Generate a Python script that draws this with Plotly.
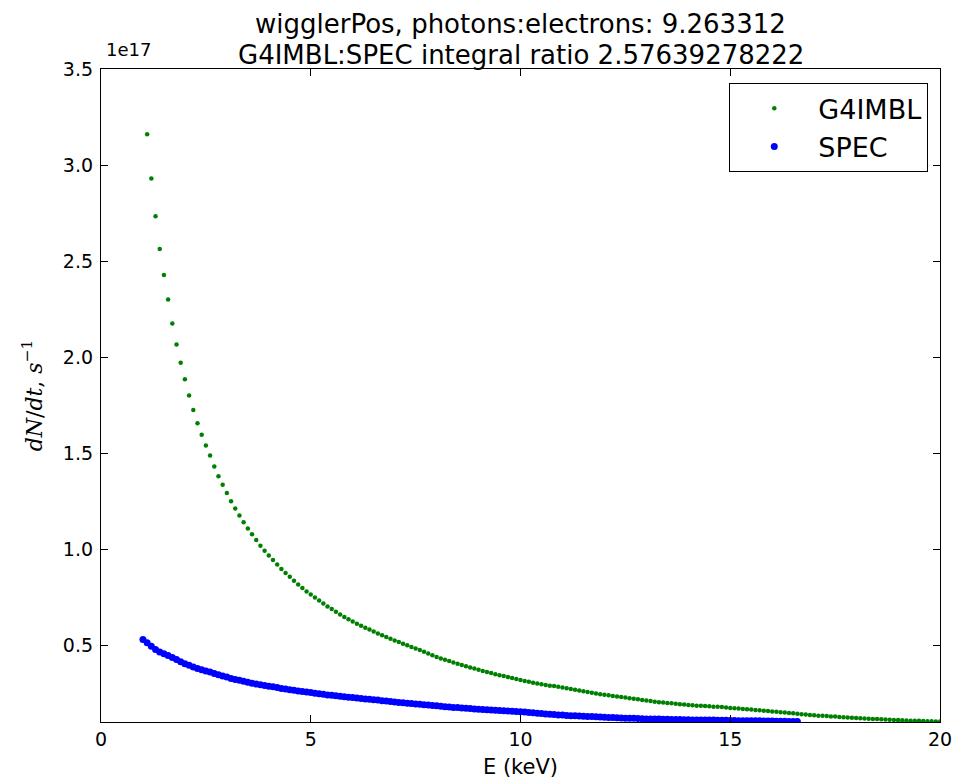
import plotly.graph_objects as go

# ---- data (dN/dt in units of 1e17 s^-1) ----
g4_e_start = 1.1
g4_e_step = 0.1
g4imbl_vals = [
    3.160, 2.930, 2.733, 2.563, 2.427, 2.300, 2.175, 2.065, 1.970, 1.885,
    1.800, 1.725, 1.655, 1.595, 1.540, 1.487, 1.430, 1.380, 1.335, 1.292,
    1.250, 1.212, 1.175, 1.140, 1.108, 1.077, 1.047, 1.018, 0.992, 0.967,
    0.943, 0.920, 0.897, 0.876, 0.856, 0.836, 0.816, 0.798, 0.780, 0.764,
    0.748, 0.733, 0.717, 0.702, 0.688, 0.674, 0.660, 0.647, 0.635, 0.623,
    0.612, 0.601, 0.591, 0.581, 0.571, 0.561, 0.552, 0.543, 0.534, 0.525,
    0.516, 0.508, 0.499, 0.491, 0.483, 0.475, 0.466, 0.457, 0.448, 0.439,
    0.431, 0.424, 0.417, 0.410, 0.403, 0.397, 0.390, 0.384, 0.378, 0.372,
    0.366, 0.360, 0.355, 0.349, 0.344, 0.339, 0.334, 0.329, 0.324, 0.319,
    0.314, 0.310, 0.305, 0.301, 0.297, 0.293, 0.289, 0.287, 0.283, 0.279,
    0.276, 0.272, 0.268, 0.264, 0.260, 0.256, 0.252, 0.248, 0.245, 0.242,
    0.239, 0.236, 0.233, 0.230, 0.227, 0.224, 0.221, 0.218, 0.215, 0.212,
    0.209, 0.206, 0.203, 0.201, 0.199, 0.197, 0.195, 0.193, 0.191, 0.189,
    0.187, 0.185, 0.184, 0.183, 0.182, 0.180, 0.179, 0.178, 0.176, 0.173,
    0.172, 0.170, 0.168, 0.167, 0.165, 0.163, 0.161, 0.159, 0.157, 0.155,
    0.153, 0.151, 0.149, 0.147, 0.145, 0.143, 0.141, 0.139, 0.137, 0.135,
    0.133, 0.132, 0.131, 0.129, 0.128, 0.126, 0.125, 0.123, 0.122, 0.121,
    0.119, 0.118, 0.117, 0.116, 0.115, 0.114, 0.113, 0.112, 0.111, 0.110,
    0.109, 0.108, 0.107, 0.106, 0.106, 0.105, 0.104, 0.104, 0.103, 0.102,
]

spec_e_start = 1.0
spec_e_step = 0.1
spec_vals = [
    0.530, 0.512, 0.494, 0.478, 0.464, 0.455, 0.446, 0.436, 0.425, 0.414,
    0.403, 0.395, 0.387, 0.379, 0.372, 0.366, 0.360, 0.353, 0.346, 0.340,
    0.334, 0.327, 0.321, 0.317, 0.312, 0.307, 0.302, 0.298, 0.294, 0.290,
    0.286, 0.283, 0.279, 0.275, 0.272, 0.268, 0.265, 0.262, 0.259, 0.256,
    0.253, 0.250, 0.247, 0.244, 0.241, 0.239, 0.237, 0.234, 0.232, 0.229,
    0.227, 0.225, 0.223, 0.220, 0.218, 0.216, 0.214, 0.211, 0.209, 0.207,
    0.204, 0.202, 0.200, 0.198, 0.196, 0.194, 0.192, 0.190, 0.188, 0.186,
    0.184, 0.182, 0.180, 0.178, 0.176, 0.175, 0.173, 0.171, 0.170, 0.168,
    0.166, 0.165, 0.164, 0.162, 0.161, 0.160, 0.159, 0.157, 0.156, 0.155,
    0.154, 0.152, 0.150, 0.148, 0.146, 0.144, 0.142, 0.140, 0.139, 0.137,
    0.136, 0.134, 0.133, 0.132, 0.131, 0.130, 0.129, 0.128, 0.127, 0.126,
    0.125, 0.124, 0.123, 0.122, 0.121, 0.120, 0.119, 0.119, 0.118, 0.117,
    0.116, 0.116, 0.115, 0.115, 0.114, 0.114, 0.113, 0.113, 0.113, 0.112,
    0.112, 0.111, 0.111, 0.111, 0.110, 0.110, 0.110, 0.109, 0.109, 0.109,
    0.108, 0.108, 0.107, 0.107, 0.107, 0.106, 0.106, 0.106, 0.105, 0.105,
    0.105, 0.104, 0.104, 0.104, 0.103, 0.103, 0.103,
]

g4imbl_e = [round(g4_e_start + g4_e_step * i, 2) for i in range(len(g4imbl_vals))]
spec_e = [round(spec_e_start + spec_e_step * i, 2) for i in range(len(spec_vals))]

x_ticks = [0, 5, 10, 15, 20]
y_ticks = [0.5, 1.0, 1.5, 2.0, 2.5, 3.0, 3.5]

title_lines = ["wigglerPos, photons:electrons: 9.263312",
               "G4IMBL:SPEC integral ratio 2.57639278222"]

FONT = "DejaVu Sans"
W, H = 961, 784
OFF = 8  # page body margin offset in the browser
# desired plot area on screen: left 101, right 940, top 69, bottom 722
ML, MR, MT, MB = 101 - OFF, W - 940 + OFF, 69 - OFF, H - 722 + OFF
PH = H - MT - MB

fig = go.Figure()
fig.add_trace(go.Scatter(
    x=g4imbl_e, y=g4imbl_vals, mode="markers", name="G4IMBL",
    marker=dict(color="#008000", size=4.5, line=dict(width=0)),
))
fig.add_trace(go.Scatter(
    x=spec_e, y=spec_vals, mode="markers", name="SPEC",
    marker=dict(color="#0000ff", size=7, line=dict(width=0)),
))

fig.update_layout(
    width=W, height=H,
    margin=dict(l=ML, r=MR, t=MT, b=MB, autoexpand=False),
    paper_bgcolor="white", plot_bgcolor="white",
    font=dict(family=FONT, size=19, color="black"),
    showlegend=True,
    legend=dict(x=0.7485, y=0.9786, xanchor="left", yanchor="top",
                bordercolor="black", borderwidth=1.3, bgcolor="white",
                font=dict(family=FONT, size=27), itemsizing="trace",
                itemwidth=78),
)
fig.update_xaxes(
    range=[0, 20], tickvals=x_ticks, ticktext=[str(v) for v in x_ticks],
    showgrid=False, zeroline=False, showline=True, linecolor="black",
    linewidth=1.3, mirror="ticks", ticks="inside", ticklen=7, tickwidth=1,
    tickcolor="black", automargin=False,
    title=dict(text="E (keV)", standoff=10, font=dict(family=FONT, size=21)),
)
fig.update_yaxes(
    range=[0.1, 3.5], tickvals=y_ticks, ticktext=[f"{v:.1f}" for v in y_ticks],
    showgrid=False, zeroline=False, showline=True, linecolor="black",
    linewidth=1.3, mirror="ticks", ticks="inside", ticklen=7, tickwidth=1,
    tickcolor="black", automargin=False, ticklabelstandoff=3,
    title=dict(text="<i>dN</i>/<i>dt</i>, <i>s</i><sup>\u22121</sup>",
               font=dict(family="DejaVu Serif", size=22), standoff=14),
)
# two-line title, placed above the plot area
for line, yc in zip(title_lines, [24, 55]):
    fig.add_annotation(text=line, xref="paper", yref="paper", x=0.5,
                       y=1 + (69 - yc) / PH, xanchor="center", yanchor="middle",
                       showarrow=False, font=dict(family=FONT, size=26))
fig.add_annotation(text="1e17", xref="paper", yref="paper", x=0,
                   y=1 + (69 - 50) / PH, xanchor="left", yanchor="middle",
                   xshift=3, showarrow=False, font=dict(family=FONT, size=18))

fig.write_html("out.html")
